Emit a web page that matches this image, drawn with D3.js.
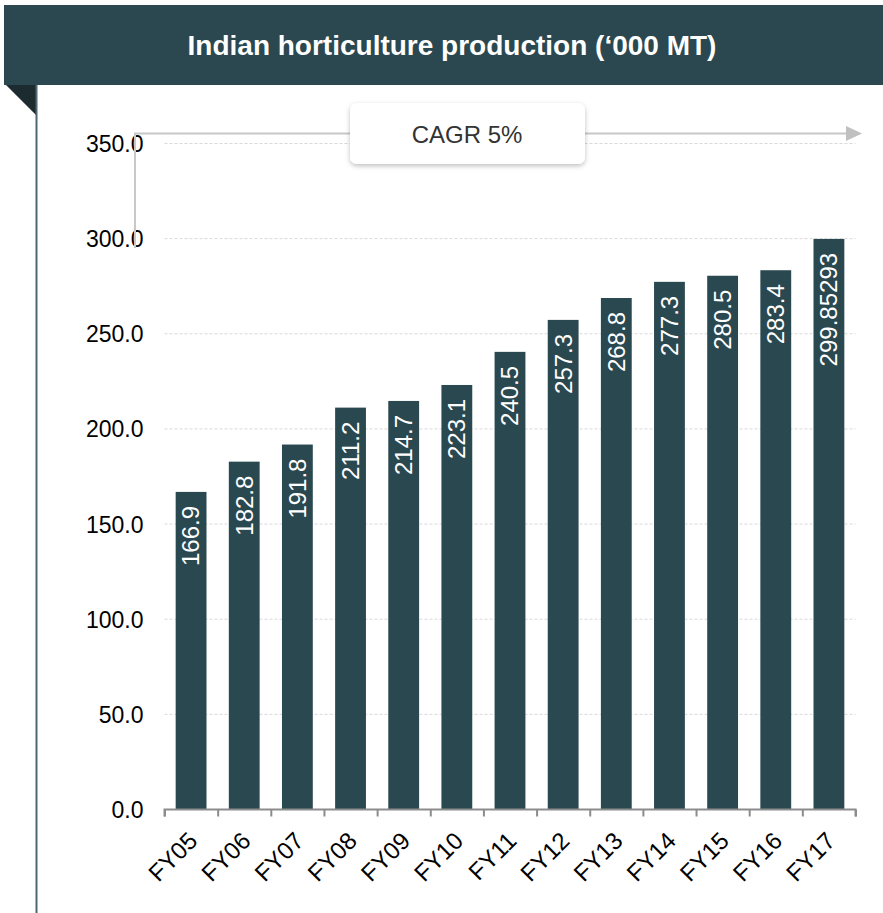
<!DOCTYPE html>
<html>
<head>
<meta charset="utf-8">
<script src="https://cdnjs.cloudflare.com/ajax/libs/d3/7.8.5/d3.min.js"></script>
<style>
  html, body { margin: 0; padding: 0; background: #ffffff; }
  svg { display: block; font-family: "Liberation Sans", Arial, sans-serif; }
</style>
</head>
<body>
<svg id="chart" width="883" height="913"></svg>
<script>
const categories = ["FY05","FY06","FY07","FY08","FY09","FY10","FY11","FY12","FY13","FY14","FY15","FY16","FY17"];
const values = [166.9,182.8,191.8,211.2,214.7,223.1,240.5,257.3,268.8,277.3,280.5,283.4,299.85293];
const valueLabels = ["166.9","182.8","191.8","211.2","214.7","223.1","240.5","257.3","268.8","277.3","280.5","283.4","299.85293"];
const yTicks = [0,50,100,150,200,250,300,350];
const title = "Indian horticulture production (\u2018000 MT)";
const cagrLabel = "CAGR 5%";

const svg = d3.select("#chart");
const W = 883, H = 913;

const defs = svg.append("defs");
const f = defs.append("filter").attr("id","shadow").attr("x","-20%").attr("y","-30%").attr("width","140%").attr("height","170%");
f.append("feDropShadow").attr("dx",0).attr("dy",2).attr("stdDeviation",2.5).attr("flood-color","#000").attr("flood-opacity",0.25);

// Header
svg.append("rect").attr("x",4).attr("y",5).attr("width",W-4).attr("height",80).attr("fill","#2b4850");
svg.append("text").attr("x",452).attr("y",55).attr("text-anchor","middle")
  .attr("fill","#ffffff").attr("font-weight","bold").attr("font-size",28).text(title);
// left fold triangle
svg.append("path").attr("d","M6,85 L37,85 L37,116 Z").attr("fill","#1b2b30");
// left vertical rule
svg.append("line").attr("x1",36.5).attr("x2",36.5).attr("y1",85).attr("y2",H).attr("stroke","#4d6873").attr("stroke-width",2);

// Scales
const x = d3.scaleBand().domain(categories).range([164.5,855.5]).paddingInner(0.42).paddingOuter(0.21);
const y = d3.scaleLinear().domain([0,350]).range([809.5,143.5]);

// gridlines
svg.append("g").selectAll("line").data(yTicks.filter(d=>d>0)).join("line")
  .attr("x1",164.5).attr("x2",855.5).attr("y1",d=>y(d)).attr("y2",d=>y(d))
  .attr("stroke","#d9d9d9").attr("stroke-width",1).attr("stroke-dasharray","3,2");

// Y axis labels
const yAxis = d3.axisLeft(y).tickValues(yTicks).tickFormat(d3.format(".1f")).tickSize(0).tickPadding(0);
const gy = svg.append("g").attr("transform","translate(143.5,0)").call(yAxis);
gy.select(".domain").remove();
gy.selectAll("text").attr("font-size",23).attr("fill","#000").attr("font-family","Liberation Sans, Arial, sans-serif").attr("dy","0.35em");

// Bars
svg.append("g").selectAll("rect").data(values).join("rect")
  .attr("x",(d,i)=>x(categories[i])).attr("width",x.bandwidth())
  .attr("y",d=>y(d)).attr("height",d=>y(0)-y(d)).attr("fill","#2a4850");

// Bar labels
svg.append("g").selectAll("text").data(values).join("text")
  .attr("transform",(d,i)=>`translate(${x(categories[i])+x.bandwidth()/2},${y(d)+14}) rotate(-90)`)
  .attr("text-anchor","end").attr("dy","0.35em")
  .attr("fill","#ffffff").attr("font-size",24)
  .text((d,i)=>valueLabels[i]);

// X axis
const xAxis = d3.axisBottom(d3.scaleLinear().domain([0,categories.length]).range([164.5,855.5]))
  .tickValues(d3.range(0,categories.length+1)).tickSize(7).tickFormat("");
const gx = svg.append("g").attr("transform",`translate(0,${y(0)})`).call(xAxis);
gx.select(".domain").attr("stroke","#8c8c8c").attr("stroke-width",2).attr("d","M164.5,7V0H855.5V7");
gx.selectAll(".tick line").attr("stroke","#8c8c8c").attr("stroke-width",2);

svg.append("g").selectAll("text").data(categories).join("text")
  .attr("transform",d=>`translate(${x(d)+x.bandwidth()/2-4},${y(0)+21}) rotate(-45)`)
  .attr("text-anchor","end").attr("dy","0.7em")
  .attr("font-size",24).attr("fill","#000").text(d=>d);

// CAGR bracket + arrow
svg.append("path").attr("d","M135,248 V133.5 H848").attr("fill","none").attr("stroke","#c8c8c8").attr("stroke-width",2);
svg.append("path").attr("d","M846,126 L862,133.5 L846,141 Z").attr("fill","#c0c0c0");
svg.append("rect").attr("x",350).attr("y",103).attr("width",235).attr("height",61).attr("rx",7)
  .attr("fill","#ffffff").attr("filter","url(#shadow)");
svg.append("text").attr("x",467).attr("y",143).attr("text-anchor","middle").attr("font-size",24)
  .attr("fill","#333333").text(cagrLabel);
</script>
</body>
</html>
